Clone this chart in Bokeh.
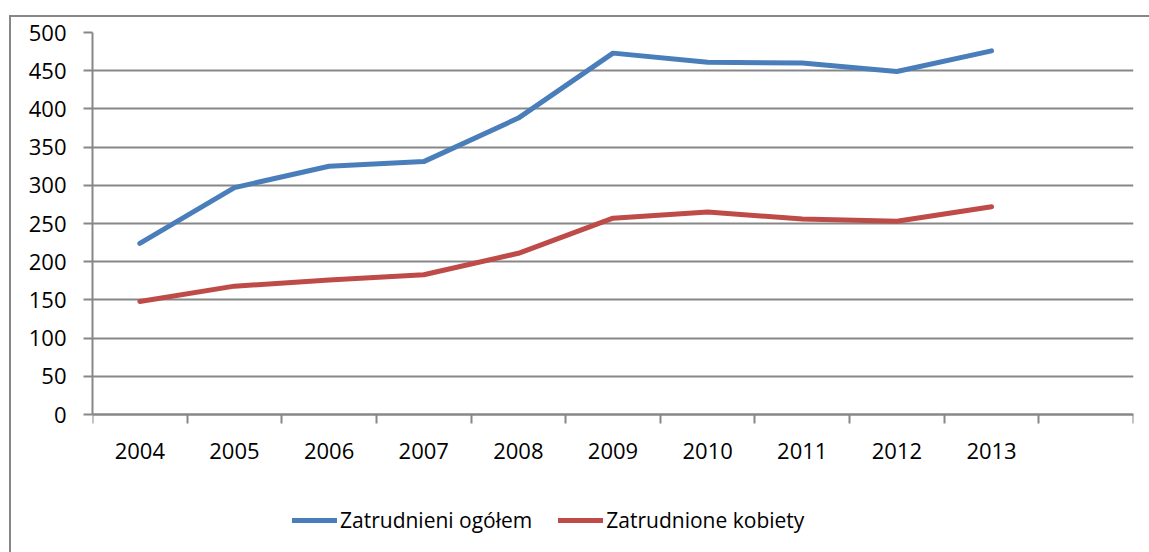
from bokeh.plotting import figure
from bokeh.models import (Range1d, FixedTicker, Legend, LegendItem,
                          ColumnDataSource, InlineStyleSheet)
from bokeh.embed import file_html
from bokeh.resources import INLINE

years = [2004, 2005, 2006, 2007, 2008, 2009, 2010, 2011, 2012, 2013]
zatrudnieni_ogolem = [224, 297, 325, 331, 388, 473, 461, 460, 449, 476]
zatrudnione_kobiety = [148, 168, 176, 183, 211, 257, 265, 256, 253, 272]
y_ticks = [0, 50, 100, 150, 200, 250, 300, 350, 400, 450, 500]
series_names = ["Zatrudnieni ogółem", "Zatrudnione kobiety"]

FONT = "Open Sans"
FS = "22px"
GRID = "#878787"
BLUE = "#4a7ebb"
RED = "#be4b48"

W, H = 1149, 552
TOP, ZERO_PX = 32, 414            # pixel rows of the 500 and 0 gridlines
px_per_unit = (ZERO_PX - TOP) / 500.0
y_start = -(H - ZERO_PX) / px_per_unit   # frame runs to the bottom edge

p = figure(width=W, height=H, output_backend="svg", toolbar_location=None,
           x_range=Range1d(years[0] - 0.5, years[-1] + 1.5),
           y_range=Range1d(y_start, 500),
           min_border_left=92, min_border_right=16, min_border_top=TOP,
           min_border_bottom=0)
p.outline_line_color = None
p.background_fill_color = "white"
p.border_fill_color = "white"

# outer chart border (left and top edges visible in the reference)
p.stylesheets = [InlineStyleSheet(css=(
    ":host { position: relative; }"
    ":host::after { content: ''; position: absolute; left: 9px; top: 15px;"
    " right: 0px; bottom: 0px; border-left: 2px solid #878787;"
    " border-top: 2px solid #878787; pointer-events: none; }"))]

# x axis fixed at y=0: labels at year centres, tick marks at slot boundaries
bounds = [years[0] - 0.5 + i for i in range(len(years) + 2)]
p.xaxis.fixed_location = 0
p.xaxis.ticker = FixedTicker(ticks=years, minor_ticks=bounds)
p.xaxis.major_tick_out = 0
p.xaxis.major_tick_in = 0
p.xaxis.minor_tick_out = 9
p.xaxis.minor_tick_in = 0
p.xaxis.minor_tick_line_color = GRID
p.xaxis.minor_tick_line_width = 2
p.xaxis.axis_line_color = GRID
p.xaxis.axis_line_width = 2
p.xaxis.major_label_text_font = FONT
p.xaxis.major_label_text_font_size = FS
p.xaxis.major_label_text_color = "black"
p.xaxis.major_label_standoff = 19
p.xgrid.grid_line_color = None

p.yaxis.ticker = FixedTicker(ticks=y_ticks, minor_ticks=[])
p.yaxis.bounds = (0, 500)
p.yaxis.major_tick_out = 9
p.yaxis.major_tick_in = 0
p.yaxis.major_tick_line_color = GRID
p.yaxis.major_tick_line_width = 2
p.yaxis.axis_line_color = GRID
p.yaxis.axis_line_width = 2
p.yaxis.major_label_text_font = FONT
p.yaxis.major_label_text_font_size = FS
p.yaxis.major_label_text_color = "black"
p.yaxis.major_label_standoff = 17
p.ygrid.grid_line_color = GRID
p.ygrid.grid_line_width = 2

src = ColumnDataSource(dict(x=years, a=zatrudnieni_ogolem, b=zatrudnione_kobiety))
r1 = p.line("x", "a", source=src, line_color=BLUE, line_width=5,
            line_cap="round", line_join="round")
r2 = p.line("x", "b", source=src, line_color=RED, line_width=5,
            line_cap="round", line_join="round")

legend = Legend(items=[LegendItem(label=series_names[0], renderers=[r1]),
                       LegendItem(label=series_names[1], renderers=[r2])],
                orientation="horizontal", location=(200, 18),
                glyph_width=45, glyph_height=28, label_standoff=3, spacing=26,
                padding=0, margin=0, border_line_color=None,
                background_fill_alpha=0,
                label_text_font=FONT, label_text_font_size="21px",
                label_text_color="black")
p.add_layout(legend, "center")

open("out.html", "w").write(file_html(p, INLINE))
